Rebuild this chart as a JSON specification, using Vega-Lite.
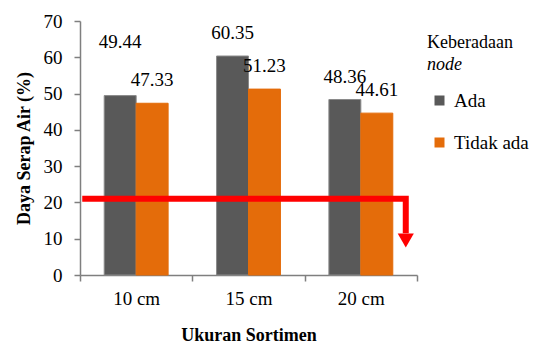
{
  "$schema": "https://vega.github.io/schema/vega-lite/v6.json",
  "width": 337,
  "height": 254,
  "padding": {"left": 15, "top": 12, "right": 5, "bottom": 0},
  "background": "white",
  "config": {
    "font": "Liberation Serif, Times New Roman, serif",
    "view": {"stroke": null},
    "axis": {"labelOverlap": false, "grid": false}
  },
  "title": {
    "text": "Keberadaan",
    "subtitle": "node",
    "subtitleFontStyle": "italic",
    "fontSize": 18,
    "subtitleFontSize": 18,
    "fontWeight": "normal",
    "font": "Liberation Serif, Times New Roman, serif",
    "subtitleFont": "Liberation Serif, Times New Roman, serif",
    "color": "black",
    "subtitleColor": "black",
    "anchor": "start",
    "frame": "group",
    "dx": 347,
    "dy": 66,
    "subtitlePadding": 4
  },
  "encoding": {
    "y": {"field": "value", "type": "quantitative",
      "scale": {"domain": [0, 70], "nice": false, "zero": true},
      "axis": {"title": "Daya Serap Air (%)", "values": [0,10,20,30,40,50,60,70], "tickCount": 8, "labelOverlap": false, "grid": false, "domain": true, "ticks": true, "domainColor": "#7f7f7f", "tickColor": "#7f7f7f", "domainWidth": 1.5, "tickWidth": 1.5, "tickSize": 6, "labelPadding": 12, "titlePadding": 10, "labelFont": "Liberation Serif, Times New Roman, serif", "labelFontSize": 19, "labelColor": "black", "titleFont": "Liberation Serif, Times New Roman, serif", "titleFontSize": 18, "titleFontWeight": "bold", "titleColor": "black"}}
  },
  "layer": [
    {
      "data": {"values": [
        {"size": "10 cm", "group": "Ada", "value": 49.44},
        {"size": "10 cm", "group": "Tidak ada", "value": 47.33},
        {"size": "15 cm", "group": "Ada", "value": 60.35},
        {"size": "15 cm", "group": "Tidak ada", "value": 51.23},
        {"size": "20 cm", "group": "Ada", "value": 48.36},
        {"size": "20 cm", "group": "Tidak ada", "value": 44.61}
      ]},
      "encoding": {
        "x": {"field": "size", "type": "nominal", "sort": null,
          "scale": {"paddingInner": 0, "paddingOuter": 0},
          "axis": {"title": "Ukuran Sortimen", "labelAngle": 0, "tickBand": "extent", "grid": false, "domain": true, "ticks": true, "domainColor": "#7f7f7f", "tickColor": "#7f7f7f", "domainWidth": 1.5, "tickWidth": 1.5, "tickSize": 6, "labelPadding": 8, "titlePadding": 18, "labelFont": "Liberation Serif, Times New Roman, serif", "labelFontSize": 19, "labelColor": "black", "titleFont": "Liberation Serif, Times New Roman, serif", "titleFontSize": 18, "titleFontWeight": "bold", "titleColor": "black"}},
        "xOffset": {"field": "group", "type": "nominal", "sort": null, "scale": {"paddingInner": 0, "paddingOuter": 0.758}}
      },
      "layer": [
        {
          "mark": {"type": "bar", "strokeWidth": 1},
          "encoding": {
            "color": {"field": "group", "type": "nominal", "sort": null,
              "scale": {"domain": ["Ada", "Tidak ada"], "range": ["#595959", "#E46C0A"]},
              "legend": {"title": null, "orient": "none", "legendX": 350, "legendY": 70, "symbolType": "square", "symbolSize": 100, "symbolStrokeWidth": 0, "labelFontSize": 19, "labelFont": "Liberation Serif, Times New Roman, serif", "labelColor": "black", "labelOffset": 5, "rowPadding": 22, "padding": 0}},
            "stroke": {"field": "group", "type": "nominal", "sort": null,
              "scale": {"domain": ["Ada", "Tidak ada"], "range": ["#8a8a8a", "#E46C0A"]}, "legend": null}
          }
        },
        {
          "transform": [{"filter": "datum.value != 49.44"}],
          "mark": {"type": "text", "baseline": "alphabetic", "dy": -17, "fontSize": 19, "font": "Liberation Serif, Times New Roman, serif", "color": "black"},
          "encoding": {"text": {"field": "value", "type": "quantitative", "format": ".2f"}}
        },
        {
          "transform": [{"filter": "datum.value == 49.44"}],
          "mark": {"type": "text", "baseline": "alphabetic", "dy": -48, "fontSize": 19, "font": "Liberation Serif, Times New Roman, serif", "color": "black"},
          "encoding": {"text": {"field": "value", "type": "quantitative", "format": ".2f"}}
        }
      ]
    },
    {
      "data": {"values": [
        {"px": 0.02, "value": 21, "o": 1},
        {"px": 2.9, "value": 21, "o": 2},
        {"px": 2.9, "value": 11.5, "o": 3}
      ]},
      "mark": {"type": "line", "color": "#FF0000", "strokeWidth": 6, "strokeJoin": "miter", "strokeCap": "butt"},
      "encoding": {
        "x": {"field": "px", "type": "quantitative", "scale": {"domain": [0, 3], "nice": false, "zero": false}, "axis": null},
        "order": {"field": "o", "type": "quantitative"}
      }
    },
    {
      "data": {"values": [{"px": 2.9, "value": 9.5}]},
      "mark": {"type": "point", "shape": "triangle-down", "filled": true, "color": "#FF0000", "size": 260, "opacity": 1},
      "encoding": {
        "x": {"field": "px", "type": "quantitative", "scale": {"domain": [0, 3], "nice": false, "zero": false}, "axis": null}
      }
    }
  ],
  "resolve": {"scale": {"x": "independent"}}
}
